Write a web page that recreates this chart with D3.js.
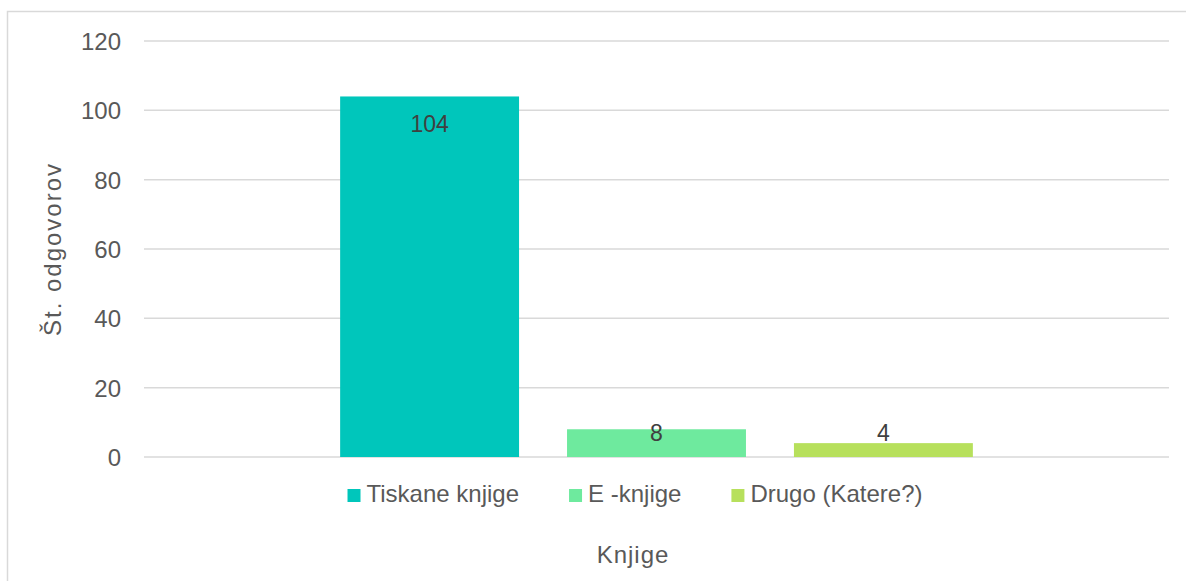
<!DOCTYPE html>
<html>
<head>
<meta charset="utf-8">
<script src="https://cdn.jsdelivr.net/npm/d3@7"></script>
<style>
  body { margin: 0; background: #fff; }
  text { font-family: "Liberation Sans", Arial, sans-serif; fill: #595959; }
</style>
</head>
<body>
<div id="chart"></div>
<script>
// Data
const category = ["Knjige"];
const series = ["Tiskane knjige", "E -knjige", "Drugo (Katere?)"];
const values = [104, 8, 4];
const colors = ["#00c6bb", "#6eea9e", "#b7e05c"];
const yTicks = [0, 20, 40, 60, 80, 100, 120];

// Dimensions
const W = 1186, H = 581;
const margin = { top: 41, right: 17, bottom: 124, left: 144 };
const width = W - margin.left - margin.right;
const height = H - margin.top - margin.bottom;

const svg = d3.select("#chart")
  .append("svg")
  .attr("width", W)
  .attr("height", H);

// Chart border
svg.append("rect")
  .attr("x", 7.5)
  .attr("y", 11.5)
  .attr("width", W + 10)
  .attr("height", H + 10)
  .attr("fill", "none")
  .attr("stroke", "#d9d9d9")
  .attr("stroke-width", 1.5);

const g = svg.append("g")
  .attr("transform", `translate(${margin.left}, ${margin.top})`);

// Scales
const x0 = d3.scaleBand().domain(category).range([0, width]).paddingInner(0).paddingOuter(0.31);
const x1 = d3.scaleBand().domain(series).range([0, x0.bandwidth()]).paddingInner(0.2115).paddingOuter(0);
const y = d3.scaleLinear().domain([0, 120]).range([height, 0]);

// Gridlines
g.selectAll("line.grid")
  .data(yTicks)
  .enter()
  .append("line")
  .attr("class", "grid")
  .attr("x1", 0)
  .attr("x2", width)
  .attr("y1", d => y(d))
  .attr("y2", d => y(d))
  .attr("stroke", "#d9d9d9")
  .attr("stroke-width", 1.5);

// Y axis
const yAxis = g.append("g")
  .call(d3.axisLeft(y).tickValues(yTicks).tickSize(0).tickPadding(23));
yAxis.select(".domain").remove();
yAxis.selectAll("text")
  .style("font-family", "Liberation Sans, Arial, sans-serif")
  .style("font-size", "24px")
  .attr("fill", "#595959")
  .attr("dy", "0.36em");

// Bars
const bars = series.map((s, i) => ({ series: s, value: values[i], color: colors[i] }));
const grp = g.append("g").attr("transform", `translate(${x0(category[0])}, 0)`);

grp.selectAll("rect")
  .data(bars)
  .enter()
  .append("rect")
  .attr("x", d => x1(d.series))
  .attr("y", d => y(d.value))
  .attr("width", x1.bandwidth())
  .attr("height", d => y(0) - y(d.value))
  .attr("fill", d => d.color);

// Data labels
grp.selectAll("text.label")
  .data(bars)
  .enter()
  .append("text")
  .attr("class", "label")
  .attr("x", d => x1(d.series) + x1.bandwidth() / 2)
  .attr("y", d => (y(0) - y(d.value) > 40) ? y(d.value) + 36 : y(0) - 16)
  .attr("text-anchor", "middle")
  .style("font-size", "23px")
  .style("fill", "#404040")
  .text(d => d.value);

// Legend
const legend = svg.append("g");
const items = legend.selectAll("g")
  .data(bars)
  .enter()
  .append("g");
items.append("rect")
  .attr("width", 13)
  .attr("height", 13)
  .attr("y", -13)
  .attr("fill", d => d.color);
items.append("text")
  .attr("x", 19)
  .attr("y", 0)
  .style("font-size", "24px")
  .text(d => d.series);

const legendGap = 50;
let offset = 0;
items.each(function () {
  const w = this.getBBox().width;
  d3.select(this).attr("transform", `translate(${offset}, 0)`);
  offset += w + legendGap;
});
const legendWidth = offset - legendGap;
legend.attr("transform", `translate(${635 - legendWidth / 2}, 502)`);

// Axis titles
svg.append("text")
  .attr("x", 633)
  .attr("y", 563)
  .attr("text-anchor", "middle")
  .style("font-size", "24px")
  .style("letter-spacing", "1px")
  .text("Knjige");

svg.append("text")
  .attr("transform", `translate(61, ${margin.top + height / 2}) rotate(-90)`)
  .attr("text-anchor", "middle")
  .style("font-size", "24px")
  .style("letter-spacing", "2px")
  .text("Št. odgovorov");
</script>
</body>
</html>
